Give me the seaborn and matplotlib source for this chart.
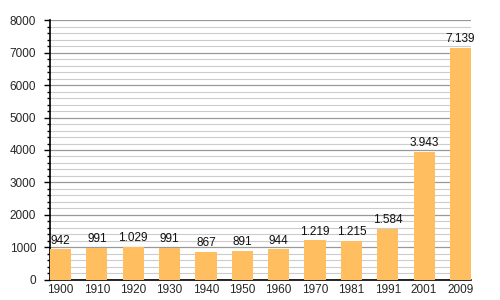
import matplotlib
matplotlib.use("Agg")
import matplotlib.pyplot as plt
import seaborn as sns
import pandas as pd
from matplotlib.ticker import MultipleLocator

years = ["1900", "1910", "1920", "1930", "1940", "1950", "1960", "1970", "1981", "1991", "2001", "2009"]
population = [942, 991, 1029, 991, 867, 891, 944, 1219, 1215, 1584, 3943, 7139]
labels = ["942", "991", "1.029", "991", "867", "891", "944", "1.219", "1.215", "1.584", "3.943", "7.139"]

df = pd.DataFrame({"year": years, "pop": population})

sns.set_style("white")
plt.rcParams['font.family'] = ['Liberation Sans', 'DejaVu Sans']

fig = plt.figure(figsize=(5, 3), dpi=100)
ax = fig.add_axes([0.1, 0.0667, 0.842, 0.8666])

sns.barplot(data=df, x="year", y="pop", color="#FFBF60", saturation=1, width=0.58,
            linewidth=0, edgecolor="none", ax=ax, zorder=3)

ax.set_ylim(0, 8000)
ax.set_xlim(-0.29, 11.29)
ax.yaxis.set_major_locator(MultipleLocator(1000))
ax.yaxis.set_minor_locator(MultipleLocator(200))
ax.grid(which="minor", axis="y", color="#cccccc", linewidth=0.8, zorder=0)
ax.grid(which="major", axis="y", color="#999999", linewidth=0.9, zorder=0)
ax.set_axisbelow(True)

for s in ["top", "right"]:
    ax.spines[s].set_visible(False)
for s in ["left", "bottom"]:
    ax.spines[s].set_color("black")
    ax.spines[s].set_linewidth(1.2)

ax.tick_params(axis="y", which="major", length=4, width=1, color="black", labelsize=8.5, pad=6, left=True)
ax.tick_params(axis="y", which="minor", length=2.5, width=1, color="black", left=True)
ax.tick_params(axis="x", length=0, labelsize=8.5, pad=3)
ax.set_xlabel("")
ax.set_ylabel("")

for i, (v, lab) in enumerate(zip(population, labels)):
    ax.text(i, v + 80, lab, ha="center", va="bottom", fontsize=8.5, color="#111111")

fig.savefig("out.png", dpi=100)
